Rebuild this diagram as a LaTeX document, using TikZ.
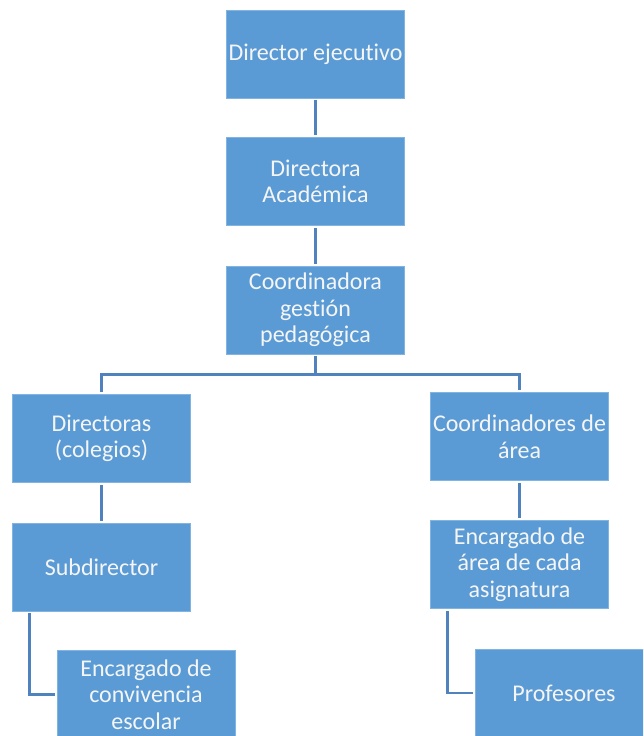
\documentclass[tikz,border=0pt]{standalone}
\usepackage{fontspec}
\setmainfont{Carlito}[Ligatures={NoCommon}]
\usetikzlibrary{calc}
\definecolor{boxblue}{RGB}{91,155,213}
\definecolor{boxedge}{RGB}{130,180,225}
\definecolor{linkblue}{RGB}{80,130,190}
\definecolor{txt}{RGB}{245,245,245}
\begin{document}
\begin{tikzpicture}[x=1pt,y=-1pt,
  orgbox/.style={rectangle, fill=boxblue, draw=boxedge, line width=0.6pt,
    minimum width=178pt, minimum height=88pt, inner sep=1pt,
    align=center, text=txt, font=\fontsize{24}{26.5}\selectfont},
  conn/.style={draw=linkblue, line width=2.6pt, shorten <=2pt, shorten >=2pt}]
\useasboundingbox (0,0) rectangle (643,736);
\clip (0,0) rectangle (643,736);
\fill[white] (0,0) rectangle (643,736);

\node[orgbox] (de) at (315.5,54) {Director ejecutivo};
\node[orgbox] (da) at (315.5,181.5) {Directora\\Académica};
\node[orgbox] (cg) at (315.5,310) {Coordinadora\\gestión\\pedagógica};
\node[orgbox] (dc) at (101.5,438.5) {Directoras\\(colegios)};
\node[orgbox] (ca) at (519.5,436.5) {Coordinadores de\\área};
\node[orgbox] (sd) at (101.5,567) {Subdirector};
\node[orgbox] (ea) at (519.5,564.5) {Encargado de\\área de cada\\asignatura};
\node[orgbox] (ec) at (146,694.5) {Encargado de\\convivencia\\escolar};
\node[orgbox] (pr) at (564,693) {Profesores};

\coordinate (bus) at ($(cg.south)!0.5!(dc.north)$);
\draw[conn] (de.south) -- (da.north);
\draw[conn] (da.south) -- (cg.north);
\draw[conn, shorten >=0pt] (cg.south) -- (cg.south |- bus);
\draw[conn] (dc.north) |- (bus -| ca.north) -- (ca.north);
\draw[conn] (dc.south) -- (sd.north);
\draw[conn] (ca.south) -- (ea.north);
\coordinate (sdl) at ([xshift=17pt]sd.south west);
\coordinate (eal) at ([xshift=17pt]ea.south west);
\draw[conn] (sdl) |- (ec.west);
\draw[conn] (eal) |- (pr.west);
\end{tikzpicture}
\end{document}
